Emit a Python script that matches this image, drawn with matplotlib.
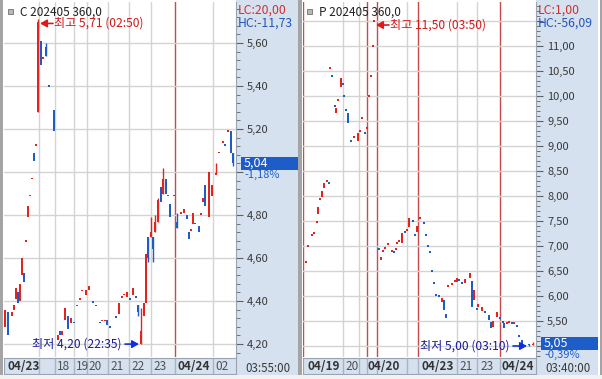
import matplotlib
matplotlib.use("Agg")
import matplotlib.pyplot as plt
from matplotlib.patches import Rectangle
from matplotlib.ticker import MultipleLocator, AutoMinorLocator, FuncFormatter
from matplotlib.transforms import offset_copy

plt.rcParams["font.family"] = ["Noto Sans CJK KR", "DejaVu Sans"]
plt.rcParams["font.size"] = 8

W, H = 602, 379
TOP, BOT = 2, 357

RED = "#E3241E"
BLUE = "#1E5CC6"
GRID = "#D4D4D4"
SESS = "#C84A4A"
SCALE_BG = "#D6E1EF"
TXT = "#383838"

# ---- left chart: C 202405 360,0 (x = time slot of each candle) ----
c_slot = [5, 8, 12, 14, 16, 18, 20, 22, 24, 26, 28, 30, 32, 34, 36, 38, 41, 43, 46, 49, 54,
          58, 60, 62, 65, 68, 71, 74, 77, 80, 82, 86, 89, 93, 96, 100, 102, 105, 107, 110,
          116, 119, 122, 124, 127, 130, 133, 136, 138, 141, 144, 146, 148, 151, 153, 155, 158,
          161, 163, 166, 168, 170, 174, 177, 181, 184, 187, 189, 191, 193, 195, 199, 201, 203,
          205, 209, 212, 216, 219, 223, 225, 228, 231, 233]
c_open = [4.28, 4.35, 4.33, 4.36, 4.41, 4.44, 4.40, 4.52, 4.53, 4.68, 4.79, 4.89, 4.97, 5.09, 5.12, 5.28, 5.61, 5.53, 5.58, 5.40, 5.29,
          4.22, 4.26, 4.24, 4.31, 4.33, 4.30, 4.30, 4.38, 4.41, 4.45, 4.43, 4.45, 4.40, 4.38, 4.30, 4.31, 4.31, 4.31, 4.28,
          4.33, 4.34, 4.42, 4.43, 4.42, 4.41, 4.43, 4.42, 4.38, 4.20, 4.33, 4.39, 4.70, 4.70, 4.70, 4.72, 4.77,
          4.93, 4.90, 4.97, 4.89, 4.85, 4.89, 4.77, 4.81, 4.81, 4.80, 4.72, 4.73, 4.76, 4.76, 4.75, 4.80, 4.86,
          4.94, 4.79, 4.89, 4.99, 5.09, 5.14, 5.13, 5.19, 5.19, 5.09]
c_high = [4.36, 4.35, 4.35, 4.38, 4.46, 4.44, 4.48, 4.60, 4.53, 4.68, 4.84, 4.89, 4.97, 5.09, 5.13, 5.71, 5.61, 5.53, 5.60, 5.40, 5.29,
          4.24, 4.26, 4.26, 4.37, 4.33, 4.32, 4.30, 4.38, 4.41, 4.45, 4.45, 4.47, 4.40, 4.38, 4.30, 4.31, 4.31, 4.31, 4.28,
          4.33, 4.39, 4.42, 4.43, 4.44, 4.41, 4.46, 4.42, 4.38, 4.37, 4.39, 4.62, 4.70, 4.79, 4.70, 4.80, 4.88,
          4.93, 5.02, 4.97, 4.89, 4.85, 4.89, 4.81, 4.81, 4.83, 4.80, 4.72, 4.73, 4.81, 4.76, 4.75, 4.81, 4.88,
          4.94, 5.00, 4.94, 5.04, 5.09, 5.14, 5.13, 5.19, 5.19, 5.09]
c_low = [4.28, 4.24, 4.33, 4.36, 4.41, 4.39, 4.40, 4.52, 4.49, 4.68, 4.79, 4.89, 4.97, 5.05, 5.12, 5.28, 5.50, 5.53, 5.54, 5.40, 5.19,
         4.22, 4.24, 4.24, 4.31, 4.27, 4.30, 4.30, 4.38, 4.41, 4.45, 4.43, 4.45, 4.39, 4.38, 4.30, 4.31, 4.31, 4.29, 4.28,
         4.32, 4.34, 4.42, 4.43, 4.42, 4.41, 4.43, 4.42, 4.33, 4.20, 4.33, 4.39, 4.58, 4.70, 4.58, 4.72, 4.77,
         4.86, 4.90, 4.90, 4.89, 4.79, 4.89, 4.74, 4.81, 4.81, 4.78, 4.69, 4.73, 4.76, 4.76, 4.72, 4.80, 4.86,
         4.84, 4.79, 4.89, 4.99, 5.09, 5.14, 5.12, 5.19, 5.09, 5.03]
c_close = [4.36, 4.24, 4.35, 4.38, 4.46, 4.39, 4.48, 4.60, 4.49, 4.68, 4.84, 4.89, 4.97, 5.05, 5.13, 5.70, 5.50, 5.53, 5.54, 5.40, 5.19,
           4.24, 4.24, 4.26, 4.37, 4.27, 4.32, 4.30, 4.38, 4.41, 4.45, 4.45, 4.47, 4.39, 4.38, 4.30, 4.31, 4.31, 4.29, 4.28,
           4.32, 4.39, 4.42, 4.43, 4.44, 4.41, 4.46, 4.42, 4.35, 4.26, 4.39, 4.62, 4.60, 4.72, 4.64, 4.77, 4.87,
           4.86, 4.97, 4.90, 4.89, 4.79, 4.89, 4.74, 4.81, 4.83, 4.78, 4.69, 4.73, 4.81, 4.76, 4.72, 4.81, 4.88,
           4.84, 5.00, 4.94, 4.99, 5.09, 5.14, 5.12, 5.19, 5.09, 5.04]
c_grid = [39, 55, 74, 87, 108, 129, 151, 213]
c_sess = [175]
c_date_x = [7, 57, 76, 88, 110, 131, 153, 177, 215]
c_date_t = ["04/23", "18", "19", "20", "21", "22", "23", "04/24", "02"]

# ---- right chart: P 202405 360,0 ----
p_slot = [306, 308, 312, 314, 317, 318, 320, 322, 324, 327, 329, 330, 332, 335, 336, 338, 341, 343, 344, 346,
          348, 351, 354, 358, 360, 362, 365, 367, 369, 371, 373, 374,
          379, 381, 383, 385, 388, 392, 394, 396, 397, 399, 402, 405, 407, 409, 413, 415, 417, 420, 424, 426,
          428, 430, 432, 434, 436, 439,
          442, 444, 446, 448, 452, 455, 457, 459, 462, 465, 470, 472, 474, 477, 478, 482, 485, 489, 491, 493,
          497, 500, 503, 504, 507, 509, 512, 514, 517, 519, 522, 529, 533]
p_open = [6.68, 7.00, 7.22, 7.26, 7.48, 7.64, 7.94, 7.98, 8.16, 8.30, 8.26, 10.56, 10.40, 9.80, 9.66, 9.92, 10.18, 10.24, 10.00, 9.72,
          9.66, 9.10, 9.18, 9.10, 9.30, 9.56, 9.26, 9.36, 10.00, 10.40, 11.00, 11.50,
          6.94, 6.72, 6.90, 6.96, 7.04, 6.88, 6.88, 6.94, 7.06, 7.10, 7.06, 7.30, 7.32, 7.38, 7.50, 7.22, 7.28, 7.56, 7.46, 7.22,
          7.00, 6.90, 6.50, 6.26, 6.02, 6.00,
          5.88, 5.92, 5.64, 6.20, 6.24, 6.30, 6.28, 6.32, 6.26, 6.26, 6.36, 6.30, 5.92, 5.74, 5.78, 5.70, 5.68, 5.62, 5.48, 5.38,
          5.58, 5.56, 5.48, 5.46, 5.46, 5.48, 5.46, 5.44, 5.40, 5.20, 5.12, 5.04, 5.02]
p_high = [6.68, 7.00, 7.22, 7.26, 7.48, 7.78, 7.94, 8.10, 8.26, 8.30, 8.26, 10.56, 10.40, 9.80, 9.76, 9.92, 10.36, 10.24, 10.00, 9.72,
          9.66, 9.10, 9.18, 9.26, 9.30, 9.56, 9.26, 9.36, 10.00, 10.40, 11.00, 11.50,
          6.94, 6.78, 6.90, 6.96, 7.04, 6.92, 6.88, 6.94, 7.06, 7.10, 7.26, 7.30, 7.32, 7.56, 7.50, 7.22, 7.40, 7.56, 7.46, 7.22,
          7.00, 6.90, 6.50, 6.26, 6.02, 6.00,
          5.96, 5.92, 5.64, 6.20, 6.24, 6.30, 6.36, 6.32, 6.26, 6.34, 6.46, 6.30, 6.12, 5.74, 5.84, 5.78, 5.68, 5.62, 5.48, 5.50,
          5.68, 5.56, 5.48, 5.46, 5.46, 5.48, 5.46, 5.48, 5.40, 5.20, 5.12, 5.04, 5.08]
p_low = [6.68, 7.00, 7.22, 7.26, 7.48, 7.64, 7.94, 7.98, 8.16, 8.30, 8.26, 10.56, 10.40, 9.80, 9.66, 9.92, 10.18, 10.24, 10.00, 9.72,
         9.46, 9.10, 9.18, 9.10, 9.30, 9.56, 9.26, 9.36, 10.00, 10.40, 11.00, 11.50,
         6.94, 6.72, 6.90, 6.96, 7.04, 6.88, 6.88, 6.94, 7.06, 7.10, 7.06, 7.26, 7.32, 7.38, 7.50, 7.22, 7.28, 7.56, 7.46, 7.22,
         7.00, 6.86, 6.50, 6.26, 6.02, 6.00,
         5.88, 5.72, 5.56, 6.20, 6.24, 6.30, 6.28, 6.32, 6.26, 6.26, 6.36, 5.78, 5.92, 5.74, 5.78, 5.70, 5.68, 5.52, 5.36, 5.38,
         5.58, 5.56, 5.48, 5.36, 5.46, 5.48, 5.46, 5.44, 5.40, 5.20, 5.04, 5.00, 5.02]
p_close = [6.68, 7.00, 7.22, 7.26, 7.48, 7.78, 7.94, 8.10, 8.26, 8.30, 8.26, 10.56, 10.40, 9.80, 9.76, 9.92, 10.36, 10.24, 10.00, 9.72,
           9.46, 9.10, 9.18, 9.26, 9.30, 9.56, 9.26, 9.36, 10.00, 10.40, 11.00, 11.50,
           6.94, 6.78, 6.90, 6.96, 7.04, 6.92, 6.88, 6.94, 7.06, 7.10, 7.26, 7.26, 7.32, 7.56, 7.50, 7.22, 7.40, 7.56, 7.46, 7.22,
           7.00, 6.86, 6.50, 6.26, 6.02, 6.00,
           5.96, 5.72, 5.56, 6.20, 6.24, 6.30, 6.36, 6.32, 6.26, 6.34, 6.46, 5.78, 6.12, 5.74, 5.84, 5.78, 5.68, 5.52, 5.36, 5.50,
           5.68, 5.56, 5.48, 5.36, 5.46, 5.48, 5.46, 5.48, 5.40, 5.20, 5.04, 5.02, 5.05]
p_grid = [343, 359, 407, 457, 477]
p_sess = [303, 367, 377, 418, 500]
p_date_x = [307, 345, 368, 421, 459, 480, 502]
p_date_t = ["04/19", "20", "04/20", "04/23", "21", "23", "04/24"]


def box(x0, y0, x1, y1):
    return [x0 / W, 1 - y1 / H, (x1 - x0) / W, (y1 - y0) / H]


def fx(x):
    return x / W


def fy(y):
    return 1 - y / H


def kr(v):
    return f"{v:.2f}".replace(".", ",")


fig = plt.figure(figsize=(W / 100, H / 100), dpi=100, facecolor="white")


def panel(x0, x1, slots, op, hi, lo, cl, ylim, step, hide_gap, grid_x, sess_x,
          date_x, date_t, clock, header, lc, hc, chg, hi_lbl, lo_lbl):
    ax = fig.add_axes(box(x0, TOP, x1, BOT))
    ax.set_xlim(x0, x1)
    ax.set_ylim(*ylim)
    upp = (ylim[1] - ylim[0]) / (BOT - TOP)
    aw = x1 - x0

    for s in ax.spines.values():
        s.set_visible(False)
    ax.spines["right"].set_visible(True)
    ax.spines["right"].set_color("#9AA4B0")

    ax.yaxis.set_major_locator(MultipleLocator(step))
    ax.yaxis.set_minor_locator(AutoMinorLocator(5))
    ax.grid(axis="y", which="major", color=GRID, lw=1)
    for g in grid_x:
        ax.axvline(g, color=GRID, lw=1, zorder=0.5)
    for g in sess_x:
        ax.axvline(g, color=SESS, lw=1, zorder=0.6)
    ax.set_xticks([])

    last = cl[-1]
    top_cut = ylim[1] - 32 * upp

    def fmt(v, pos):
        if abs(v - last) < hide_gap or v > top_cut:
            return ""
        return kr(v)

    ax.yaxis.tick_right()
    ax.yaxis.set_major_formatter(FuncFormatter(fmt))
    ax.tick_params(axis="y", which="major", direction="out", length=5, pad=3,
                   labelsize=8, colors="#606060", labelcolor=TXT)
    ax.tick_params(axis="y", which="minor", direction="out", length=3, colors="#606060")

    # candles
    prev = None
    min_h = 1.5 * upp
    for s, o, h, l, c in zip(slots, op, hi, lo, cl):
        if c > o:
            col = RED
        elif c < o:
            col = BLUE
        else:
            col = BLUE if (prev is not None and c < prev) else RED
        top, bot = max(o, c), min(o, c)
        if top - bot < min_h:
            mid = (top + bot) / 2
            top, bot = mid + min_h / 2, mid - min_h / 2
        if h > top or l < bot:
            ax.vlines(s, l, h, color=col, lw=1, zorder=3)
        ax.bar(s, top - bot, bottom=bot, width=2.8, color=col, lw=0, zorder=3)
        prev = c

    # high / low markers
    i_hi = hi.index(max(hi))
    i_lo = lo.index(min(lo))
    tr_hi = offset_copy(ax.transData, fig=fig, x=0, y=-4, units="dots")
    tip = (slots[i_hi] + 2, hi[i_hi])
    ax.annotate("", xy=tip, xycoords=tr_hi, xytext=(13, 0), textcoords="offset pixels",
                arrowprops=dict(arrowstyle="-|>,head_length=0.5,head_width=0.28",
                                color="#E01818", lw=1.2, shrinkA=0, shrinkB=0),
                annotation_clip=False, zorder=6)
    ax.annotate(hi_lbl, xy=tip, xycoords=tr_hi, xytext=(14, 0), textcoords="offset pixels",
                va="center", ha="left", color="#D01818", fontsize=8.7, zorder=6)
    tip = (slots[i_lo] - 2, lo[i_lo])
    ax.annotate("", xy=tip, xytext=(-14, 0), textcoords="offset pixels",
                arrowprops=dict(arrowstyle="-|>,head_length=0.5,head_width=0.28",
                                color="#1030E0", lw=1.2, shrinkA=0, shrinkB=0),
                annotation_clip=False, zorder=6)
    ax.annotate(lo_lbl, xy=tip, xytext=(-18, 0), textcoords="offset pixels",
                va="center", ha="right", color="#1A1A9A", fontsize=8.7, zorder=6)

    # last price box
    ax.add_patch(Rectangle((1 + 5 / aw, last - 6.5 * upp), 57 / aw, 13 * upp,
                           transform=ax.get_yaxis_transform(), clip_on=False,
                           fc="#1E5CC8", ec="none", zorder=7))
    ax.text(1 + 8 / aw, last, kr(last), transform=ax.get_yaxis_transform(),
            color="white", va="center", fontsize=9, clip_on=False, zorder=8)
    ax.text(1 + 8 / aw, last - 11.5 * upp, chg, transform=ax.get_yaxis_transform(),
            color="#1E5CC8", va="center", fontsize=8, clip_on=False, zorder=8)

    # header inside plot
    fig.add_artist(Rectangle((fx(x0 + 4), fy(14)), 5 / W, 5 / H, transform=fig.transFigure,
                             fc="#B8B8B8", ec="#707070", lw=0.6, zorder=5))
    fig.text(fx(x0 + 16), fy(12), header, va="center", ha="left", color="#202020", fontsize=8.5)
    fig.text(fx(x1 + 2), fy(10), lc, va="center", ha="left", color="#D03030", fontsize=8.8)
    fig.text(fx(x1 + 2), fy(23), hc, va="center", ha="left", color="#2456B8", fontsize=8.8)

    # price scale background
    fig.add_artist(Rectangle((fx(x1), fy(375)), 62 / W, 375 / H, transform=fig.transFigure,
                             fc=SCALE_BG, ec="none", zorder=-1))
    fig.text(fx(x1 + 9), fy(368), clock, va="center", ha="left", color=TXT, fontsize=8.3)

    # date strip
    sx = fig.add_axes(box(x0, BOT + 1, x1, 374))
    sx.set_xlim(x0, x1)
    sx.set_ylim(0, 1)
    sx.set_facecolor(SCALE_BG)
    sx.set_xticks([])
    sx.set_yticks([])
    for s in sx.spines.values():
        s.set_color("#9AA4B0")
    for g in grid_x + sess_x:
        if g > x0 + 2:
            sx.axvline(g, color="#AAB4C0", lw=1)
    for x, t in zip(date_x, date_t):
        bold = "/" in t
        sx.text(x, 0.45, t, va="center", ha="left", color="#333333" if bold else "#505050",
                fontsize=8.5, fontweight="bold" if bold else "normal")
    return ax


panel(4, 236, c_slot, c_open, c_high, c_low, c_close, (4.140, 5.791), 0.2, 0.06,
      c_grid, c_sess, c_date_x, c_date_t, "03:55:00", "C 202405 360,0",
      "LC:20,00", "HC:-11,73", "-1,18%", "최고 5,71 (02:50)", "최저 4,20 (22:35)")
panel(303, 536, p_slot, p_open, p_high, p_low, p_close, (4.78, 11.88), 0.5, 0.3,
      p_grid, p_sess, p_date_x, p_date_t, "03:40:00", "P 202405 360,0",
      "LC:1,00", "HC:-56,09", "-0,39%", "최고 11,50 (03:50)", "최저 5,00 (03:10)")

# frame pieces
for a, b in [(0, 3), (298, 302), (600, 602)]:
    fig.add_artist(Rectangle((fx(a), 0), (b - a) / W, 1, transform=fig.transFigure,
                             fc="#A4A4A4", ec="none", zorder=9))
fig.add_artist(Rectangle((0, 0), 1, 4 / H, transform=fig.transFigure,
                         fc="#F2F2F2", ec="none", zorder=9))

fig.savefig("out.png", dpi=100, facecolor=fig.get_facecolor())
